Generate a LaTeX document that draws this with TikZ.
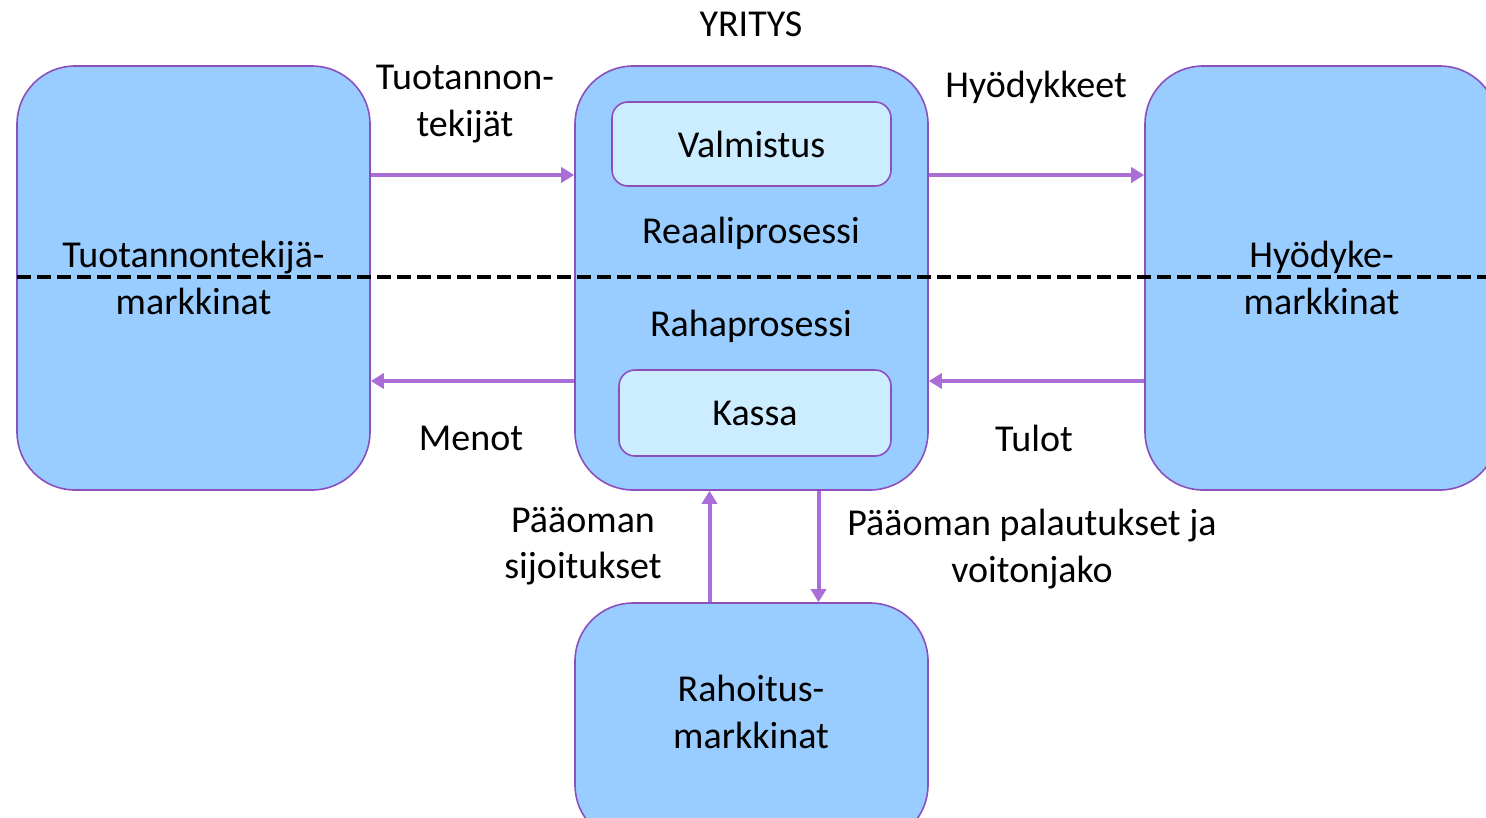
\documentclass[tikz,border=0pt]{standalone}
\usepackage{fontspec}
\setmainfont{Carlito}
\usetikzlibrary{arrows.meta}
\definecolor{boxfill}{RGB}{153,204,255}
\definecolor{innerfill}{RGB}{204,236,255}
\definecolor{boxline}{RGB}{140,80,190}
\definecolor{flowcol}{RGB}{170,110,215}
\tikzset{
  txt/.style={font=\fontsize{38}{46.5}\selectfont},
  market/.style={txt, draw=boxline, line width=1.6pt, fill=boxfill, rounded corners=58pt,
    minimum width=353pt, minimum height=424pt, inner sep=0pt, align=center},
  subbox/.style={txt, draw=boxline, line width=1.6pt, fill=innerfill, rounded corners=16pt,
    inner sep=0pt},
  lbl/.style={txt, align=center, inner sep=0pt},
  flow/.style={draw=flowcol, line width=4pt, -{Triangle[length=13pt,width=15pt]}},
  divider/.style={line width=3.6pt, dash pattern=on 14pt off 6pt}
}
\begin{document}
\begin{tikzpicture}[x=1pt,y=-1pt]
  \clip (0,0) rectangle (1486,817);
  \fill[white] (0,0) rectangle (1486,817);

  % markets and the firm
  \node[market] (factor) at (193.5,278) {Tuotannontekijä-\\markkinat};
  \node[market] (firm) at (751.5,278) {};
  \node[market] (goods) at (1321.5,278) {Hyödyke-\\markkinat};
  \node[market, minimum height=240pt] (finance) at (751.5,723) {};
  \node[lbl] (financelbl) at (751,712) {Rahoitus-\\markkinat};

  % inside the firm
  \node[subbox, minimum width=279pt, minimum height=84pt] (make) at (751.5,144) {Valmistus};
  \node[subbox, minimum width=272pt, minimum height=86pt] (cash) at (755,413) {Kassa};
  \node[lbl] (real) at (751,233) {Reaaliprosessi};
  \node[lbl] (money) at (751,326) {Rahaprosessi};
  \node[lbl] (firmlbl) at (751,24) {YRITYS};

  % real / money divider
  \coordinate (divL) at (17,277);
  \coordinate (divR) at (1490,277);
  \draw[divider] (divL) -- (divR);

  % flows
  \draw[flow] ([yshift=103pt]factor.east) -- ([yshift=103pt]firm.west);
  \draw[flow] ([yshift=103pt]firm.east) -- ([yshift=103pt]goods.west);
  \draw[flow] ([yshift=-103pt]firm.west) -- ([yshift=-103pt]factor.east);
  \draw[flow] ([yshift=-103pt]goods.west) -- ([yshift=-103pt]firm.east);
  \draw[flow] ([xshift=-42pt]finance.north) -- ([xshift=-42pt]firm.south);
  \draw[flow] ([xshift=67pt]firm.south) -- ([xshift=67pt]finance.north);

  % flow labels
  \node[lbl] (inputs) at (465,104) {Tuotannon-\\tekijät};
  \node[lbl] (outputs) at (1036,87) {Hyödykkeet};
  \node[lbl] (spend) at (471,438) {Menot};
  \node[lbl] (income) at (1034,438) {Tulot};
  \node[lbl] (invest) at (583,546) {Pääoman\\sijoitukset};
  \node[lbl] (returns) at (1032,549) {Pääoman palautukset ja\\voitonjako};
\end{tikzpicture}
\end{document}
